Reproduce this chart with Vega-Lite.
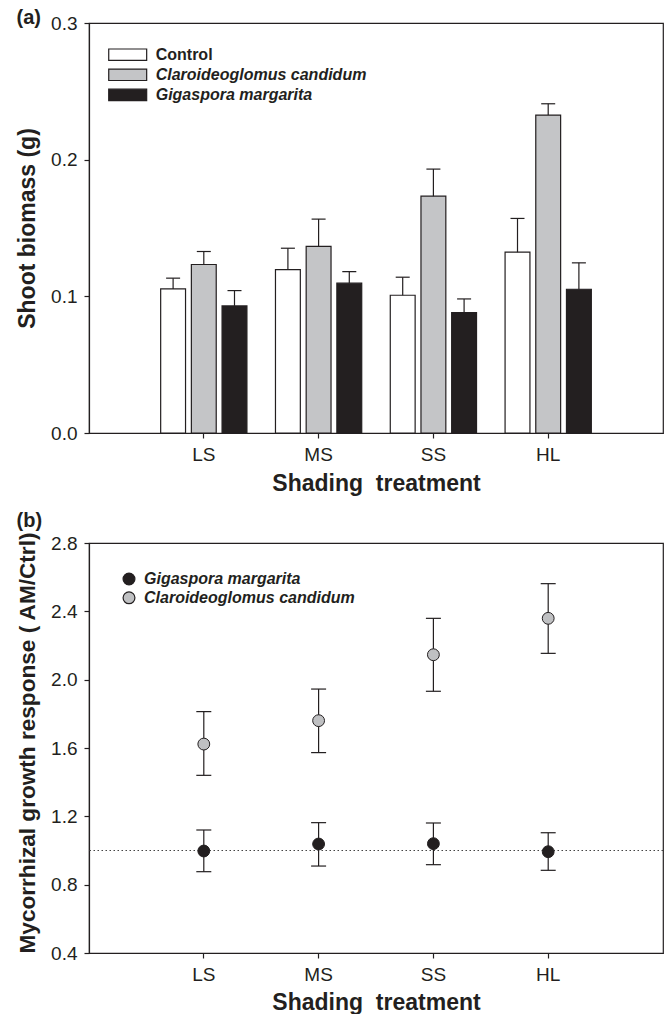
{
  "$schema": "https://vega.github.io/schema/vega-lite/v6.json",
  "background": "white",
  "padding": {"left": 15, "top": 7, "right": 2, "bottom": 0},
  "spacing": 14,
  "resolve": {"scale": {"fill": "independent"}, "legend": {"fill": "independent"}},
  "config": {
    "font": "Liberation Sans",
    "view": {"stroke": "#231f20", "strokeWidth": 1.2},
    "axis": {
      "domainColor": "#231f20", "tickColor": "#231f20", "labelColor": "#231f20", "titleColor": "#231f20",
      "labelFont": "Liberation Sans", "labelFontSize": 19, "titleFont": "Liberation Sans", "titleFontSize": 23,
      "titleFontWeight": "bold", "grid": false, "tickSize": 5, "labelPadding": 7, "domainWidth": 1.2, "tickWidth": 1.2
    },
    "axisX": {"labelAngle": 0, "titlePadding": 8},
    "axisY": {"titlePadding": 11},
    "title": {"font": "Liberation Sans", "fontSize": 20, "fontWeight": "bold", "color": "#231f20", "anchor": "start", "frame": "bounds"},
    "legend": {
      "orient": "none", "title": null, "labelFont": "Liberation Sans", "labelFontSize": 16, "labelFontWeight": "bold",
      "labelColor": "#231f20", "labelLimit": 400, "symbolStrokeColor": "#231f20", "symbolStrokeWidth": 1.2, "padding": 0
    }
  },
  "vconcat": [
    {
      "width": 574,
      "height": 410,
      "title": {"text": "(a)", "offset": -14},
      "data": {"values": [
        {"shading": "LS", "treatment": "Control", "mean": 0.1054, "upper": 0.1133},
        {"shading": "LS", "treatment": "Claroideoglomus candidum", "mean": 0.1233, "upper": 0.1328},
        {"shading": "LS", "treatment": "Gigaspora margarita", "mean": 0.0930, "upper": 0.1042},
        {"shading": "MS", "treatment": "Control", "mean": 0.1196, "upper": 0.1352},
        {"shading": "MS", "treatment": "Claroideoglomus candidum", "mean": 0.1365, "upper": 0.1565},
        {"shading": "MS", "treatment": "Gigaspora margarita", "mean": 0.1096, "upper": 0.1181},
        {"shading": "SS", "treatment": "Control", "mean": 0.1008, "upper": 0.1140},
        {"shading": "SS", "treatment": "Claroideoglomus candidum", "mean": 0.1733, "upper": 0.1931},
        {"shading": "SS", "treatment": "Gigaspora margarita", "mean": 0.0881, "upper": 0.0981},
        {"shading": "HL", "treatment": "Control", "mean": 0.1323, "upper": 0.1570},
        {"shading": "HL", "treatment": "Claroideoglomus candidum", "mean": 0.2326, "upper": 0.2409},
        {"shading": "HL", "treatment": "Gigaspora margarita", "mean": 0.1052, "upper": 0.1245}
      ]},
      "encoding": {
        "x": {"field": "shading", "type": "nominal",
              "scale": {"domain": ["LS", "MS", "SS", "HL"], "paddingInner": 0, "paddingOuter": 0.5},
              "axis": {"title": "Shading\u00a0\u00a0treatment"}},
        "xOffset": {"field": "treatment", "type": "nominal",
              "scale": {"domain": ["Control", "Claroideoglomus candidum", "Gigaspora margarita"], "paddingInner": 0.19, "paddingOuter": 0.465}}
      },
      "layer": [
        {
          "mark": {"type": "bar", "stroke": "#231f20", "strokeWidth": 1.2},
          "encoding": {
            "y": {"field": "mean", "type": "quantitative", "scale": {"domain": [0, 0.3]},
                  "axis": {"values": [0, 0.1, 0.2, 0.3], "format": ".1f", "title": "Shoot biomass (g)"}},
            "fill": {"field": "treatment", "type": "nominal",
                     "scale": {"domain": ["Control", "Claroideoglomus candidum", "Gigaspora margarita"], "range": ["#ffffff", "#c4c5c7", "#231f20"]},
                     "legend": {"legendX": 30.7, "legendY": 23.7, "symbolType": "M-3,-0.9H3V0.9H-3Z", "symbolSize": 160, "labelOffset": 20, "rowPadding": 2.1,
                                "encode": {
                                  "symbols": {"update": {"shape": {"value": "M-3,-0.9H3V0.9H-3Z"}}},
                                  "labels": {"update": {"fontStyle": {"signal": "datum.label === 'Control' ? 'normal' : 'italic'"}}}}}}
          }
        },
        {
          "mark": {"type": "rule", "color": "#231f20", "strokeWidth": 1.2},
          "encoding": {"y": {"field": "mean", "type": "quantitative"}, "y2": {"field": "upper"}}
        },
        {
          "mark": {"type": "tick", "color": "#231f20", "size": 14, "thickness": 1.2, "opacity": 1},
          "encoding": {"y": {"field": "upper", "type": "quantitative"}}
        }
      ]
    },
    {
      "width": 574,
      "height": 410,
      "title": {"text": "(b)", "offset": 0},
      "layer": [
        {
          "data": {"values": [{"ref": 1}]},
          "mark": {"type": "rule", "color": "#444444", "strokeWidth": 1.2, "strokeDash": [1.5, 2.5]},
          "encoding": {"y": {"field": "ref", "type": "quantitative", "scale": {"domain": [0.4, 2.8]}}}
        },
        {
          "data": {"values": [
            {"shading": "LS", "fungus": "Claroideoglomus candidum", "mean": 1.623, "lower": 1.440, "upper": 1.813},
            {"shading": "MS", "fungus": "Claroideoglomus candidum", "mean": 1.760, "lower": 1.573, "upper": 1.945},
            {"shading": "SS", "fungus": "Claroideoglomus candidum", "mean": 2.146, "lower": 1.932, "upper": 2.359},
            {"shading": "HL", "fungus": "Claroideoglomus candidum", "mean": 2.359, "lower": 2.154, "upper": 2.562},
            {"shading": "LS", "fungus": "Gigaspora margarita", "mean": 0.997, "lower": 0.876, "upper": 1.120},
            {"shading": "MS", "fungus": "Gigaspora margarita", "mean": 1.038, "lower": 0.909, "upper": 1.163},
            {"shading": "SS", "fungus": "Gigaspora margarita", "mean": 1.040, "lower": 0.917, "upper": 1.161},
            {"shading": "HL", "fungus": "Gigaspora margarita", "mean": 0.993, "lower": 0.884, "upper": 1.104}
          ]},
          "encoding": {
            "x": {"field": "shading", "type": "nominal",
                  "scale": {"domain": ["LS", "MS", "SS", "HL"], "paddingInner": 0, "paddingOuter": 0.5},
                  "axis": {"title": "Shading\u00a0\u00a0treatment", "titlePadding": 7}}
          },
          "layer": [
            {
              "mark": {"type": "rule", "color": "#231f20", "strokeWidth": 1.2},
              "encoding": {"y": {"field": "lower", "type": "quantitative"}, "y2": {"field": "upper"}}
            },
            {
              "mark": {"type": "tick", "color": "#231f20", "size": 15, "thickness": 1.2, "opacity": 1},
              "encoding": {"y": {"field": "upper", "type": "quantitative"}}
            },
            {
              "mark": {"type": "tick", "color": "#231f20", "size": 15, "thickness": 1.2, "opacity": 1},
              "encoding": {"y": {"field": "lower", "type": "quantitative"}}
            },
            {
              "mark": {"type": "point", "shape": "circle", "filled": true, "size": 140, "stroke": "#231f20", "strokeWidth": 1, "opacity": 1},
              "encoding": {
                "y": {"field": "mean", "type": "quantitative",
                      "axis": {"values": [0.4, 0.8, 1.2, 1.6, 2.0, 2.4, 2.8], "format": ".1f", "title": "Mycorrhizal growth response ( AM/Ctrl)", "titleAnchor": "start", "titleFontSize": 22.6}},
                "fill": {"field": "fungus", "type": "nominal",
                         "scale": {"domain": ["Gigaspora margarita", "Claroideoglomus candidum"], "range": ["#231f20", "#bfc0c2"]},
                         "legend": {"legendX": 32, "legendY": 28, "symbolType": "circle", "symbolSize": 140, "labelOffset": 7, "rowPadding": 0.8, "labelFontStyle": "italic"}}
              }
            }
          ]
        }
      ]
    }
  ]
}
